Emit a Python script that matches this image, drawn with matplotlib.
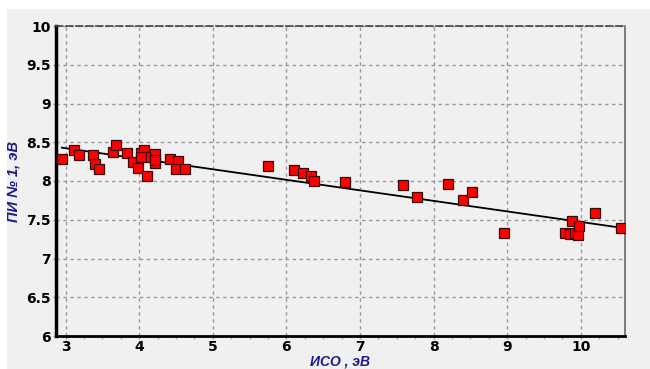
import numpy as np
import matplotlib
matplotlib.use("Agg")
import matplotlib.pyplot as plt
from matplotlib.patches import Rectangle
from matplotlib.ticker import MultipleLocator

iso = [2.95, 3.11, 3.18, 3.37, 3.40, 3.46, 3.65, 3.69, 3.83, 3.91, 3.98, 4.03, 4.06, 4.03,
       4.10, 4.16, 4.21, 4.22, 4.22, 4.42, 4.53, 4.50, 4.62, 5.75, 6.11, 6.22, 6.33, 6.37,
       6.79, 7.59, 7.78, 8.20, 8.40, 8.52, 8.95, 9.78, 9.85, 9.88, 9.92, 9.96, 9.97, 10.19, 10.55]
pi1 = [8.28, 8.40, 8.33, 8.34, 8.22, 8.16, 8.38, 8.46, 8.36, 8.24, 8.17, 8.36, 8.40, 8.31,
       8.07, 8.31, 8.35, 8.23, 8.27, 8.28, 8.26, 8.16, 8.15, 8.20, 8.14, 8.10, 8.06, 8.00,
       7.99, 7.95, 7.79, 7.96, 7.76, 7.86, 7.33, 7.33, 7.32, 7.49, 7.33, 7.30, 7.42, 7.59, 7.40]
fit_x = [2.95, 10.6]
fit_y = [8.43, 7.39]

x_ticks = [3, 4, 5, 6, 7, 8, 9, 10]
y_ticks = [6, 6.5, 7, 7.5, 8, 8.5, 9, 9.5, 10]
y_labels = ["6", "6.5", "7", "7.5", "8", "8.5", "9", "9.5", "10"]

plt.rcParams['font.family'] = ['Liberation Sans', 'DejaVu Sans']
fig = plt.figure(figsize=(6.5, 3.69), dpi=100)
fig.patch.set_facecolor('white')
fig.patches.append(Rectangle((7/650, 0), 1, 1 - 9/369, transform=fig.transFigure,
                             facecolor='#f0f0f0', edgecolor='none', zorder=-10))
ax = fig.add_axes([56/650, 1 - 336/369, (625-56)/650, (336-26)/369])
ax.set_facecolor('#f0f0f0')

ax.plot(fit_x, fit_y, color='black', lw=1.3, zorder=3)
ax.plot(iso, pi1, 's', color='#ff0000', markeredgecolor='#3a0a0a', markeredgewidth=0.9,
        markersize=6.5, zorder=4)

ax.set_xlim(2.87, 10.6)
ax.set_ylim(6, 10)
ax.set_xticks(x_ticks)
ax.set_xticklabels([str(v) for v in x_ticks])
ax.set_yticks(y_ticks)
ax.set_yticklabels(y_labels)
ax.xaxis.set_minor_locator(MultipleLocator(0.25))
ax.grid(True, which='major', color='#999999', linestyle=(0, (2.5, 2.5)), lw=1.0)
ax.tick_params(axis='both', which='major', length=2, width=1, color='#999999')
ax.tick_params(axis='x', which='minor', length=2, width=1, color='#aaaaaa')
for lab in ax.get_xticklabels() + ax.get_yticklabels():
    lab.set_fontweight('bold')
    lab.set_fontfamily('DejaVu Sans')
    lab.set_fontsize(10)
ax.tick_params(axis='x', pad=1)
ax.tick_params(axis='y', pad=2)

ax.spines['left'].set_linewidth(2.5)
ax.spines['left'].set_color('black')
ax.spines['bottom'].set_linewidth(2.0)
ax.spines['bottom'].set_color('black')
ax.spines['top'].set_linestyle((0, (4, 2)))
ax.spines['top'].set_color('#444444')
ax.spines['top'].set_linewidth(1.2)
ax.spines['right'].set_color('#666666')
ax.spines['right'].set_linewidth(1.2)

ax.set_ylabel('ПИ № 1, эВ', fontsize=10.5, fontstyle='italic', fontweight='bold',
              color='#1a1a8c', labelpad=4)
fig.text(340/650, 0.0, 'ИСО , эВ', fontsize=10, fontstyle='italic', fontweight='bold',
         color='#1a1a8c', ha='center', va='bottom')

fig.savefig('out.png', dpi=100, facecolor=fig.get_facecolor())
